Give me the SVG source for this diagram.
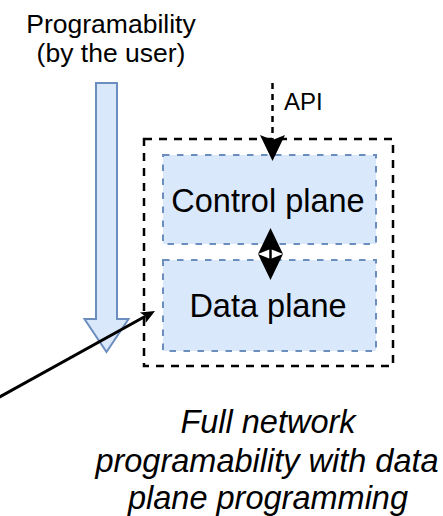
<svg xmlns="http://www.w3.org/2000/svg" width="443" height="516" viewBox="0 0 443 516">
  <style>
    .lbl { font-family: "Liberation Sans", Arial, sans-serif; fill: #000; }
    .plane { fill: #dae8fc; stroke: #6c8ebf; stroke-width: 2; stroke-dasharray: 6.5 7.5; }
    .outer { fill: none; stroke: #000; stroke-width: 2.5; stroke-dasharray: 8 7; }
    .link { fill: none; stroke: #000; }
  </style>
  <defs>
    <!-- large notched head, reference point at the notch (tip is 21 units ahead) -->
    <marker id="head-lg" markerUnits="userSpaceOnUse" markerWidth="26" markerHeight="26"
            refX="5" refY="12.5" orient="auto-start-reverse" overflow="visible">
      <path d="M26,12.5 L0,0 L5,12.5 L0,25 Z" fill="#000"/>
    </marker>
    <!-- small notched head for the pointer line (tip is 11 units ahead) -->
    <marker id="head-sm" markerUnits="userSpaceOnUse" markerWidth="14" markerHeight="12"
            refX="3" refY="6" orient="auto" overflow="visible">
      <path d="M14,6 L0,0 L3,6 L0,12 Z" fill="#000"/>
    </marker>
  </defs>

  <!-- caption of the programmability arrow -->
  <g id="prog-label">
    <text class="lbl" x="111" y="33" font-size="26.5" text-anchor="middle">Programability</text>
    <text class="lbl" x="111" y="62" font-size="26.5" text-anchor="middle">(by the user)</text>
  </g>

  <!-- wide hollow arrow pointing down -->
  <g id="prog-arrow">
    <path d="M96,83 L117,83 L117,319 L128.5,319 L106.5,352 L84.5,319 L96,319 Z" fill="#dae8fc" stroke="#6c8ebf" stroke-width="2" stroke-linejoin="miter"/>
  </g>

  <!-- device boundary -->
  <g id="device">
    <rect class="outer" x="144" y="139" width="249" height="227"/>
  </g>

  <g id="control-plane">
    <rect class="plane" x="163" y="155" width="213" height="89"/>
    <text class="lbl" x="268" y="212" font-size="32.5" text-anchor="middle">Control plane</text>
  </g>

  <g id="data-plane">
    <rect class="plane" x="163" y="260" width="213" height="91"/>
    <text class="lbl" x="268" y="317" font-size="32.5" text-anchor="middle">Data plane</text>
  </g>

  <g id="api-label">
    <text class="lbl" x="284" y="110" font-size="24">API</text>
  </g>

  <!-- connectors -->
  <g id="connectors">
    <path class="link" d="M272.5,83 L272.5,140" stroke-width="2.5" stroke-dasharray="6 5" marker-end="url(#head-lg)"/>
    <path class="link" d="M270.5,249 L270.5,259" stroke-width="2.5" marker-start="url(#head-lg)" marker-end="url(#head-lg)"/>
    <path class="link" d="M-4,399 L145.4,316.3" stroke-width="3" marker-end="url(#head-sm)"/>
  </g>

  <g id="caption">
    <text class="lbl" x="268" y="433" font-size="32.5" font-style="italic" text-anchor="middle">Full network</text>
    <text class="lbl" x="267" y="472" font-size="32.5" font-style="italic" text-anchor="middle">programability with data</text>
    <text class="lbl" x="268" y="509" font-size="32.5" font-style="italic" text-anchor="middle">plane programming</text>
  </g>
</svg>
